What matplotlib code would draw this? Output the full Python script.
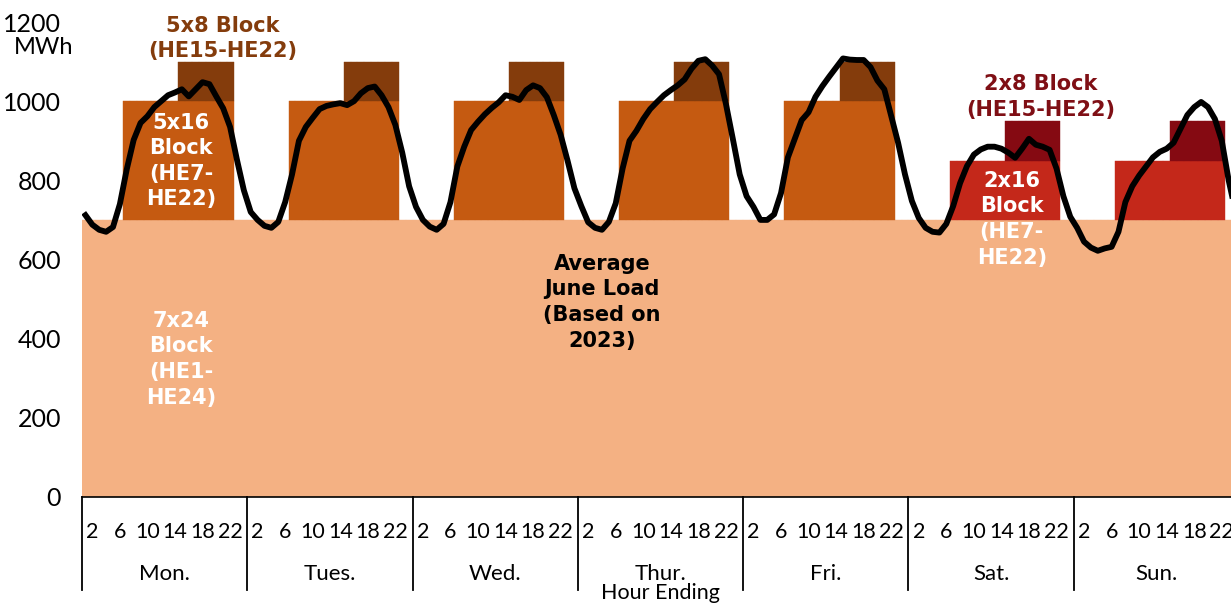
import matplotlib
matplotlib.use("Agg")
import matplotlib.pyplot as plt
import matplotlib.transforms as mtransforms
import numpy as np

# hourly load for a typical June week (MWh), hour ending 1..24
days = ["Mon.", "Tues.", "Wed.", "Thur.", "Fri.", "Sat.", "Sun."]
load_mon = [712, 688, 675, 670, 682, 740, 828, 902, 945, 962, 985, 1000,
            1015, 1022, 1030, 1012, 1030, 1048, 1043, 1012, 982, 935, 852, 775]
load_tue = [720, 700, 685, 680, 695, 745, 815, 900, 935, 958, 980, 988,
            992, 995, 990, 1000, 1020, 1033, 1037, 1015, 985, 940, 870, 785]
load_wed = [733, 700, 683, 675, 690, 745, 835, 885, 927, 948, 967, 983,
            997, 1015, 1011, 1003, 1028, 1040, 1033, 1010, 965, 915, 850, 780]
load_thu = [735, 694, 680, 675, 695, 742, 830, 900, 925, 955, 980, 998,
            1015, 1028, 1040, 1055, 1082, 1102, 1106, 1090, 1068, 993, 905, 815]
load_fri = [760, 733, 700, 700, 714, 768, 858, 905, 952, 972, 1011, 1038,
            1062, 1085, 1108, 1105, 1104, 1104, 1086, 1052, 1030, 962, 895, 815]
load_sat = [748, 705, 680, 670, 668, 690, 735, 793, 836, 865, 878, 885,
            885, 880, 870, 857, 880, 905, 890, 885, 877, 830, 760, 708]
load_sun = [680, 645, 630, 622, 628, 632, 670, 745, 785, 812, 835, 858,
            872, 880, 895, 930, 965, 985, 998, 985, 955, 900, 800, 720]

# block sizes (MWh)
block_7x24 = 700
block_5x16 = 300
block_5x8 = 100
block_2x16 = 150
block_2x8 = 100

hour_labels = [2, 6, 10, 14, 18, 22]

load = np.array(load_mon + load_tue + load_wed + load_thu + load_fri + load_sat + load_sun)
n_hours = len(load)
x = np.arange(n_hours) + 0.5
he = np.tile(np.arange(1, 25), 7)
day_idx = np.repeat(np.arange(7), 24)
weekday = day_idx < 5
on_peak = (he >= 7) & (he <= 22)
evening = (he >= 15) & (he <= 22)

base = np.full(n_hours, block_7x24)
wd16 = np.where(weekday & on_peak, block_5x16, 0)
wd8 = np.where(weekday & evening, block_5x8, 0)
we16 = np.where(~weekday & on_peak, block_2x16, 0)
we8 = np.where(~weekday & evening, block_2x8, 0)

c_base = "#F4B183"
c_5x16 = "#C55A11"
c_5x8 = "#843C0C"
c_2x16 = "#C4281A"
c_2x8 = "#850A12"

fig = plt.figure(figsize=(12.31, 6.03), dpi=100)
ax = fig.add_axes([82 / 1231, 1 - 497 / 603, 1157 / 1231, 475 / 603])

def bars(bottom, height, color):
    mask = height > 0
    ax.bar(x[mask], height[mask], bottom=bottom[mask], width=1.0,
           color=color, edgecolor=color, linewidth=0.3, zorder=1)

bars(np.zeros(n_hours), base, c_base)
bars(base, wd16, c_5x16)
bars(base + wd16, wd8, c_5x8)
bars(base, we16, c_2x16)
bars(base + we16, we8, c_2x8)

ax.plot(x, load, color="black", lw=4.2, solid_joinstyle="round", zorder=3)

ax.set_xlim(0, n_hours)
ax.set_ylim(0, 1200)
for s in ["top", "right", "left"]:
    ax.spines[s].set_visible(False)
ax.spines["bottom"].set_color("black")
ax.spines["bottom"].set_linewidth(1.2)
ax.spines["bottom"].set_zorder(4)

axis_font = "Lato"
ax.set_yticks(range(0, 1201, 200))
ax.set_yticklabels([str(v) for v in range(0, 1201, 200)], fontsize=18, family=axis_font)
ax.tick_params(axis="y", length=0, pad=15)
ax.text(-5.5, 1135, "MWh", ha="center", va="center", fontsize=17, family=axis_font)

ticks = [d * 24 + h - 0.5 for d in range(7) for h in hour_labels]
ax.set_xticks(ticks)
ax.set_xticklabels([str(h) for d in range(7) for h in hour_labels],
                   fontsize=15.5, family=axis_font)
ax.tick_params(axis="x", length=0, pad=18)

trans = mtransforms.blended_transform_factory(ax.transData, ax.transAxes)
for d in range(8):
    ax.plot([d * 24, d * 24], [0, -0.196], transform=trans, color="black",
            lw=1.3, clip_on=False)
for d, name in enumerate(days):
    ax.text(d * 24 + 12, -0.162, name, transform=trans, ha="center",
            va="center", fontsize=16, family=axis_font)
ax.text(84, -0.203, "Hour Ending", transform=trans, ha="center", va="center",
        fontsize=15.5, family=axis_font)

# block annotations
bold = dict(fontweight="bold", family="DejaVu Sans", fontsize=15,
            ha="center", va="center", linespacing=1.35, zorder=5)
ax.text(20.4, 1158, "5x8 Block\n(HE15-HE22)", color=c_5x8, **bold)
ax.text(14.4, 849, "5x16\nBlock\n(HE7-\nHE22)", color="white", **bold)
ax.text(14.4, 348, "7x24\nBlock\n(HE1-\nHE24)", color="white", **bold)
ax.text(75.5, 492, "Average\nJune Load\n(Based on\n2023)", color="black", **bold)
ax.text(139.2, 1011, "2x8 Block\n(HE15-HE22)", color="#7F0F15", **bold)
ax.text(135, 702, "2x16\nBlock\n(HE7-\nHE22)", color="white", **bold)

fig.savefig("out.png", dpi=100)
